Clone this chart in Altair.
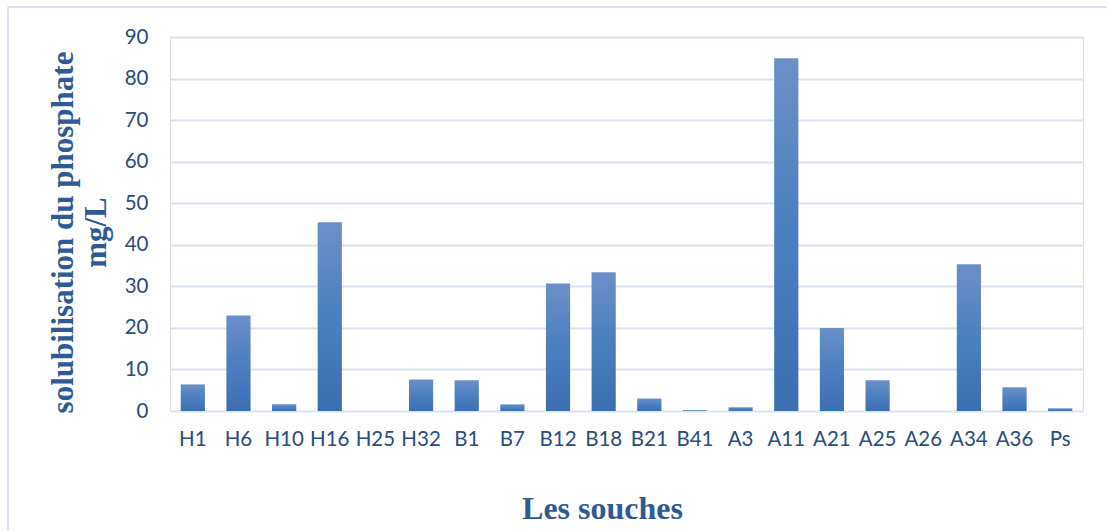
import altair as alt
import pandas as pd

souches = ["H1", "H6", "H10", "H16", "H25", "H32", "B1", "B7", "B12", "B18",
           "B21", "B41", "A3", "A11", "A21", "A25", "A26", "A34", "A36", "Ps"]
valeurs = [6.4, 23.0, 1.6, 45.4, 0.0, 7.6, 7.4, 1.6, 30.7, 33.4,
           3.0, 0.2, 0.9, 84.9, 20.0, 7.4, 0.0, 35.3, 5.7, 0.65]

df = pd.DataFrame({"souche": souches, "valeur": valeurs})

grad = alt.LinearGradient(
    gradient="linear",
    stops=[alt.GradientStop(color="#6B90C8", offset=0),
           alt.GradientStop(color="#4A7FC1", offset=0.5),
           alt.GradientStop(color="#3C6FB1", offset=1)],
    x1=0, x2=0, y1=0, y2=1,
)

label_color = "#2B4C7E"
title_color = "#2F5A93"

bars = alt.Chart(df).mark_bar(color=grad).encode(
    x=alt.X("souche:N", sort=souches,
            scale=alt.Scale(paddingInner=0.47, paddingOuter=0.235),
            axis=alt.Axis(title="Les souches", labelAngle=0, labelFont="Lato",
                          labelFontSize=20.5, labelColor=label_color, labelPadding=18,
                          ticks=False, domain=False, grid=False,
                          titleFont="Liberation Serif", titleFontWeight="bold",
                          titleFontSize=32, titleColor=title_color, titlePadding=44,
                          titleX=432)),
    y=alt.Y("valeur:Q", scale=alt.Scale(domain=[0, 90], nice=False),
            axis=alt.Axis(values=list(range(0, 100, 10)),
                          title=["solubilisation du phosphate", "mg/L"],
                          labelFont="Lato", labelFontSize=20.5, labelColor=label_color,
                          labelPadding=22, ticks=False, domain=False,
                          grid=True, gridColor="#D9E3F2", gridWidth=2,
                          titleFont="Liberation Serif", titleFontWeight="bold",
                          titleFontSize=31, titleColor=title_color,
                          titlePadding=12, titleLineHeight=33, titleY=195)),
)

frame_left = alt.Chart(df).mark_rule(color="#D6E2F2", strokeWidth=2).encode(
    x=alt.value(-162), y=alt.value(-30), y2=alt.value(520))
frame_top = alt.Chart(df).mark_rule(color="#D6E2F2", strokeWidth=2).encode(
    x=alt.value(-162), x2=alt.value(960), y=alt.value(-30))

chart = alt.layer(bars, frame_left, frame_top).properties(
    width=913, height=374,
    autosize=alt.AutoSizeParams(type="none"),
    padding={"left": 170, "top": 37, "right": 24, "bottom": 120},
).configure_view(stroke=None).configure(background="white")

chart.save("out.html", embed_options={"renderer": "svg", "actions": False})
